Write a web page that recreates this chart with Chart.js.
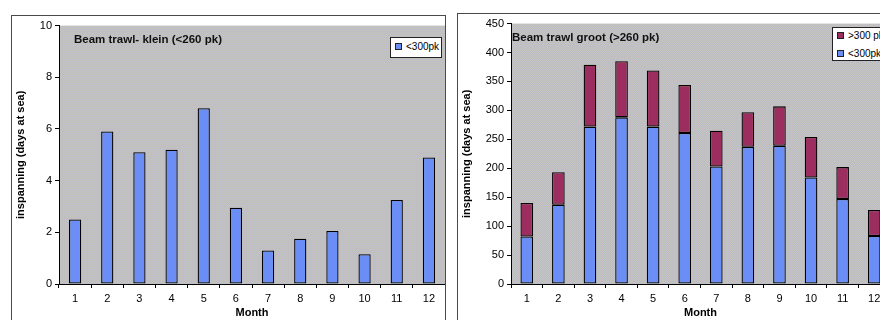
<!DOCTYPE html>
<html>
<head>
<meta charset="utf-8">
<script src="https://cdn.jsdelivr.net/npm/chart.js@4.4.1/dist/chart.umd.min.js"></script>
<style>
  html, body { margin: 0; padding: 0; background: #fff; width: 880px; height: 320px; overflow: hidden;
    font-family: "Liberation Sans", Arial, sans-serif; }
  .frame { position: absolute; border: 1px solid #4a4a4a; }
  #frameKlein { left: 11px; top: 15px; width: 433px; height: 340px; }
  #frameGroot { left: 457px; top: 13px; width: 440px; height: 340px; }
  canvas { display: block; }
  .legend { position: absolute; background: #fff; border: 1px solid #222; font-size: 10px; color: #000; }
  .legend .item { position: absolute; left: 4px; height: 12px; line-height: 12px; white-space: nowrap; }
  .legend .swatch { display: inline-block; width: 5px; height: 5px; border: 1px solid #222; vertical-align: middle;
    margin-right: 4px; position: relative; top: -1px; }
  #legendKlein { left: 390px; top: 37px; width: 50px; height: 19px; }
  #legendGroot { left: 832px; top: 27px; width: 80px; height: 32px; }
</style>
</head>
<body>
<div class="frame" id="frameKlein"><canvas id="klein" width="433" height="305"></canvas></div>
<div class="frame" id="frameGroot"><canvas id="groot" width="432" height="307"></canvas></div>
<div class="legend" id="legendKlein"></div>
<div class="legend" id="legendGroot"></div>
<script>
// Months on the category axis
const months = ['1', '2', '3', '4', '5', '6', '7', '8', '9', '10', '11', '12'];

// Beam trawl klein (<260 pk): days at sea per month
const kleinBelow300 = [2.5, 5.9, 5.1, 5.2, 6.8, 2.95, 1.3, 1.75, 2.05, 1.15, 3.25, 4.9];

// Beam trawl groot (>260 pk): days at sea per month, split by engine power
const grootBelow300 = [82, 137, 272, 288, 272, 261, 203, 237, 239, 184, 147, 83];
const grootAbove300 = [58, 56, 107, 97, 97, 83, 62, 60, 68, 70, 55, 45];

// Axis ranges / tick spacing
const kleinTicks = { max: 10, step: 2 };
const grootTicks = { max: 450, step: 50 };

const seriesNames = { below: '<300pk', above: '>300 pk' };
const BLUE = '#6a8ef6';
const PLUM = '#9b2d5f';
const FONT = 'Liberation Sans';
Chart.defaults.font.family = FONT;

// Grey speckled plot-area fill
function plotPattern(ctx) {
  const c = document.createElement('canvas');
  c.width = 4; c.height = 2;
  const p = c.getContext('2d');
  const cols = [['#c6c2bd', '#bcbec8', '#c4c3bf', '#bbbcc6'], ['#bcbcc4', '#c6c2bc', '#babdc6', '#c5c3bf']];
  for (let y = 0; y < 2; y++) for (let x = 0; x < 4; x++) { p.fillStyle = cols[y][x]; p.fillRect(x, y, 1, 1); }
  return ctx.createPattern(c, 'repeat');
}

const plotBackground = {
  id: 'plotBackground',
  beforeDraw(chart) {
    const { ctx, chartArea: a } = chart;
    ctx.save();
    ctx.fillStyle = plotPattern(ctx);
    ctx.fillRect(a.left, a.top, a.right - a.left, a.bottom - a.top);
    ctx.restore();
  }
};

const innerTitle = {
  id: 'innerTitle',
  afterDatasetsDraw(chart, args, opts) {
    const { ctx, chartArea: a } = chart;
    ctx.save();
    ctx.font = 'bold 11.5px "' + FONT + '"';
    ctx.fillStyle = '#111';
    ctx.textBaseline = 'middle';
    ctx.fillText(opts.text, a.left + opts.dx, a.top + opts.dy);
    ctx.restore();
  }
};

function scales(range, yWidth, stacked) {
  const tickFont = { size: 11, family: FONT };
  return {
    x: {
      stacked: stacked,
      grid: { offset: true, drawOnChartArea: false, drawTicks: true, tickLength: 4, color: '#000' },
      border: { display: true, color: '#000', width: 1 },
      ticks: { color: '#000', font: tickFont, padding: 4, maxRotation: 0, autoSkip: false },
      title: { display: true, text: 'Month', color: '#000', font: { size: 11, weight: 'bold', family: FONT }, padding: { top: 1, bottom: 1 } },
      afterFit(s) { s.height = 37; }
    },
    y: {
      stacked: stacked,
      min: 0, max: range.max,
      grid: { drawOnChartArea: false, drawTicks: true, tickLength: 4, color: '#000' },
      border: { display: true, color: '#000', width: 1 },
      ticks: { stepSize: range.step, color: '#000', font: tickFont, padding: 3 },
      title: { display: true, text: 'inspanning (days at sea)', color: '#000', font: { size: 11, weight: 'bold', family: FONT }, padding: { top: 2, bottom: 2 } },
      afterFit(s) { s.width = yWidth; }
    }
  };
}

function barSet(label, data, color, pct) {
  return { label, data, backgroundColor: color, borderColor: '#000', borderWidth: 1.3,
    borderSkipped: false, barPercentage: pct, categoryPercentage: 1 };
}

function buildLegend(el, datasets, tops) {
  datasets.forEach((d, i) => {
    const item = document.createElement('div');
    item.className = 'item';
    item.style.top = tops[i] + 'px';
    const sw = document.createElement('span');
    sw.className = 'swatch';
    sw.style.background = d.backgroundColor;
    item.appendChild(sw);
    item.appendChild(document.createTextNode(d.label));
    el.appendChild(item);
  });
}

const kleinChart = new Chart(document.getElementById('klein'), {
  type: 'bar',
  data: { labels: months, datasets: [barSet(seriesNames.below, kleinBelow300, BLUE, 0.38)] },
  options: {
    responsive: false, animation: false,
    layout: { padding: { top: 9, right: 0, bottom: 0, left: 0 } },
    plugins: { legend: { display: false }, tooltip: { enabled: false },
      innerTitle: { text: 'Beam trawl- klein (<260 pk)', dx: 15, dy: 14 } },
    scales: scales(kleinTicks, 47, false)
  },
  plugins: [plotBackground, innerTitle]
});

const grootChart = new Chart(document.getElementById('groot'), {
  type: 'bar',
  data: { labels: months, datasets: [
    barSet(seriesNames.below, grootBelow300, BLUE, 0.40),
    barSet(seriesNames.above, grootAbove300, PLUM, 0.40)
  ] },
  options: {
    responsive: false, animation: false,
    layout: { padding: { top: 8, right: 0, bottom: 0, left: 0 } },
    plugins: { legend: { display: false }, tooltip: { enabled: false },
      innerTitle: { text: 'Beam trawl groot (>260 pk)', dx: 1, dy: 14.5 } },
    scales: scales(grootTicks, 53, true)
  },
  plugins: [plotBackground, innerTitle]
});

buildLegend(document.getElementById('legendKlein'), kleinChart.data.datasets, [3]);
buildLegend(document.getElementById('legendGroot'), grootChart.data.datasets.slice().reverse(), [2, 20]);
</script>
</body>
</html>
